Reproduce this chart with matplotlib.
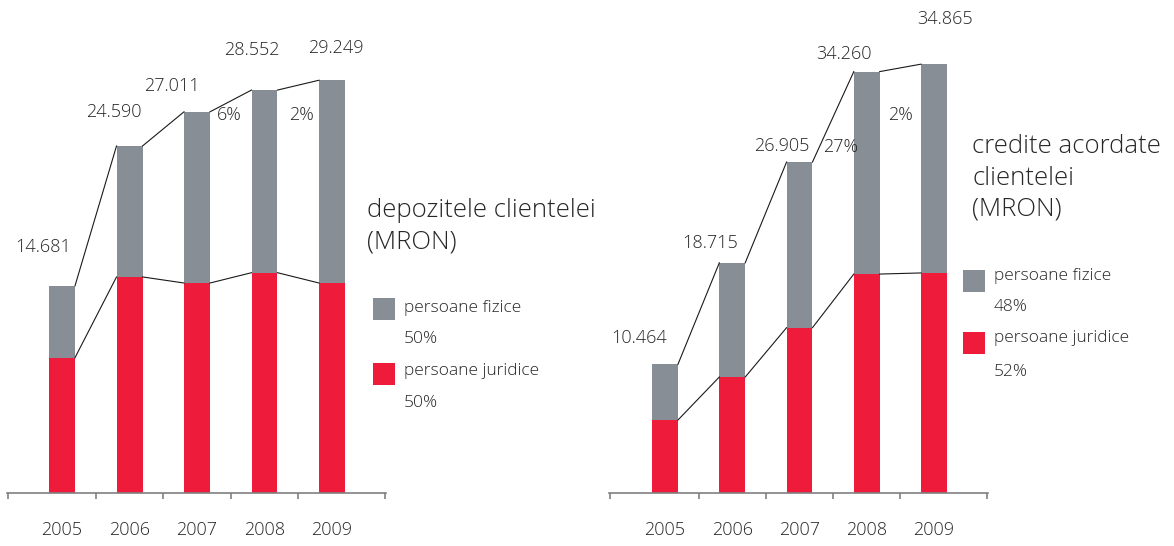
"""
Depozite si credite clientela 2005-2009 (MRON)
"""
import matplotlib
matplotlib.use("Agg")
import matplotlib.pyplot as plt
from matplotlib.patches import Rectangle

years = ["2005", "2006", "2007", "2008", "2009"]

# depozitele clientelei (MRON)
dep_total = [14681, 24590, 27011, 28552, 29249]
dep_juridice = [9590, 15310, 14880, 15610, 14880]
dep_growth = ["6%", "2%"]                            # 2007->2008, 2008->2009
dep_share = ["50%", "50%"]                           # fizice, juridice

# credite acordate clientelei (MRON)
cred_total = [10464, 18715, 26905, 34260, 34865]
cred_juridice = [5935, 9430, 13440, 17800, 17890]
cred_growth = ["27%", "2%"]
cred_share = ["48%", "52%"]

legend_labels = ["persoane fizice", "persoane juridice"]

GRAY = "#888e95"
RED = "#ee1c3a"
TXT = "#262626"
FONT = "Open Sans"

plt.rcParams["font.family"] = [FONT, "DejaVu Sans"]

W, H = 1174, 546
fig = plt.figure(figsize=(W / 100, H / 100), dpi=100)


def fx(px):
    return px / W


def fy(py):
    return 1 - py / H


def draw_panel(ax, total, juridice, growth, xlim, ylim, lbl_off, growth_pos):
    x = list(range(len(years)))
    bw = 0.385
    fizice = [t - j for t, j in zip(total, juridice)]
    ax.bar(x, juridice, width=bw, color=RED, linewidth=0)
    ax.bar(x, fizice, width=bw, bottom=juridice, color=GRAY, linewidth=0)

    # thin connectors from the right edge of one bar to the left edge of the next
    for series in (total, juridice):
        for i in range(len(x) - 1):
            ax.plot([x[i] + bw / 2, x[i + 1] - bw / 2], [series[i], series[i + 1]],
                    color="#1a1a1a", lw=0.8, zorder=3)

    for i, v in enumerate(total):
        ax.annotate(f"{v:,}".replace(",", "."), xy=(x[i], v),
                    xytext=lbl_off[i], textcoords="offset pixels",
                    ha="center", va="center", fontsize=13, color=TXT,
                    fontweight="light")
        ax.annotate(years[i], xy=(x[i], 0), xytext=(0, -37),
                    textcoords="offset pixels", ha="center", va="center",
                    fontsize=13, color=TXT, fontweight="light")

    for (xm, dx, dy), g in zip(growth_pos, growth):
        ax.annotate(g, xy=(xm, 0), xytext=(dx, dy), textcoords="offset pixels",
                    ha="center", va="center", fontsize=13, color=TXT,
                    fontweight="light")

    ax.set_xlim(*xlim)
    ax.set_ylim(*ylim)
    for s in ("top", "right", "left"):
        ax.spines[s].set_visible(False)
    ax.spines["bottom"].set_color("#808080")
    ax.spines["bottom"].set_linewidth(1.2)
    ax.set_yticks([])
    ax.set_xticks([xlim[0] + 0.01, 0.5, 1.5, 2.5, 3.5, xlim[1] - 0.01])
    ax.set_xticklabels([])
    ax.tick_params(axis="x", direction="out", length=4, width=1.2, color="#808080")


# left panel: depozite
ax1 = fig.add_axes([fx(7), 53 / H, fx(379), 493 / H])
draw_panel(ax1, dep_total, dep_juridice, dep_growth,
           xlim=(-0.815, 4.8), ylim=(0, 493 * 70.86),
           lbl_off=[(-19, 39), (-16, 34), (-25, 26), (-13, 40), (4, 32)],
           growth_pos=[(2.5, -2, 378), (3.5, 3, 378)])

# right panel: credite
ax2 = fig.add_axes([fx(609), 53 / H, fx(379), 493 / H])
draw_panel(ax2, cred_total, cred_juridice, cred_growth,
           xlim=(-0.833, 4.803), ylim=(0, 493 * 81.3),
           lbl_off=[(-26, 26), (-22, 20), (-18, 16), (-23, 18), (11, 45)],
           growth_pos=[(2.5, 7, 346), (3.5, 0, 378)])


def side_block(x0, title_lines, baselines, box_x, box_tops, text_ys, share_ys, shares):
    for line, b in zip(title_lines, baselines):
        fig.text(fx(x0), fy(b), line, ha="left", va="baseline", fontsize=18.5,
                 color=TXT, fontweight="light")
    for col, top, ty, sy, lab, sh in zip((GRAY, RED), box_tops, text_ys, share_ys,
                                         legend_labels, shares):
        fig.patches.append(Rectangle((fx(box_x), fy(top + 22)), fx(22), 22 / H,
                                     transform=fig.transFigure, color=col, lw=0))
        fig.text(fx(box_x + 31), fy(ty), lab, ha="left", va="center", fontsize=12.5,
                 color=TXT, fontweight="light")
        fig.text(fx(box_x + 31), fy(sy), sh, ha="left", va="center", fontsize=12.5,
                 color=TXT, fontweight="light")


side_block(367, ["depozitele clientelei", "(MRON)"], [217, 249],
           373, [298, 363], [308, 371], [339, 403], dep_share)
side_block(972, ["credite acordate", "clientelei", "(MRON)"], [153, 185, 216],
           963, [270, 332], [276, 338], [307, 372], cred_share)

fig.savefig("out.png", dpi=100, facecolor="white")
